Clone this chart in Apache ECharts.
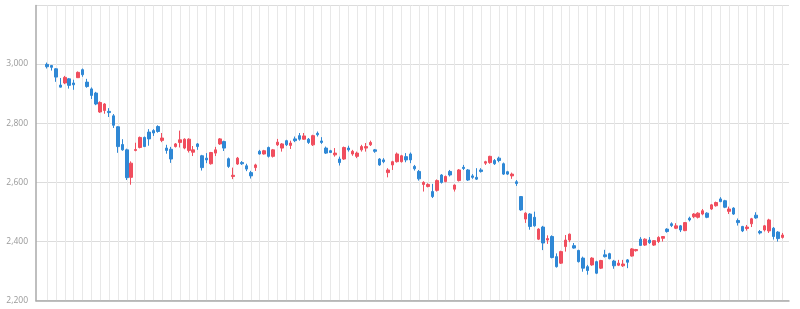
<!DOCTYPE html>
<html>
<head>
<meta charset="utf-8">
<script src="https://cdn.jsdelivr.net/npm/echarts@6/dist/echarts.min.js"></script>
<style>
html,body{margin:0;padding:0;background:#fff;}
#chart{width:800px;height:309px;}
</style>
</head>
<body>
<div id="chart"></div>
<script>
// Candle values: open, close, low, high
var opens = [2999,2995,2984,2929,2936,2950,2936,2954,2981,2939,2916,2902,2838,2843,2840,2825,2788,2728,2710,2617,
2708,2718,2752,2770,2775,2789,2742,2716,2712,2721,2735,2716,2708,2702,2730,2690,2682,2663,2699,2730,
2738,2680,2620,2662,2667,2656,2633,2650,2705,2696,2718,2688,2727,2716,2741,2725,2747,2758,2746,2746,
2727,2766,2740,2716,2707,2693,2679,2679,2716,2696,2688,2710,2716,2727,2710,2679,2676,2633,2659,2670,
2670,2687,2696,2654,2637,2593,2586,2569,2573,2625,2603,2637,2577,2606,2651,2642,2622,2617,2642,2665,
2667,2674,2682,2663,2636,2622,2602,2552,2476,2493,2482,2408,2449,2405,2417,2349,2327,2383,2405,2386,
2370,2344,2315,2321,2332,2310,2355,2359,2334,2320,2318,2338,2351,2369,2408,2388,2405,2388,2400,2411,
2442,2460,2445,2453,2437,2479,2484,2482,2493,2496,2510,2521,2544,2538,2502,2513,2471,2451,2444,2460,
2489,2434,2439,2436,2445,2432,2414];
var closes = [2991,2989,2956,2922,2955,2928,2930,2972,2964,2924,2894,2865,2870,2865,2836,2793,2721,2710,2616,2665,
2711,2752,2721,2747,2767,2772,2750,2708,2679,2730,2744,2746,2746,2710,2721,2650,2676,2701,2710,2747,
2716,2654,2624,2682,2663,2645,2622,2659,2696,2707,2688,2710,2736,2730,2727,2733,2741,2746,2757,2735,
2758,2761,2735,2699,2701,2699,2667,2718,2710,2705,2699,2721,2721,2735,2705,2659,2670,2642,2670,2696,
2690,2676,2676,2646,2612,2600,2593,2552,2606,2600,2620,2625,2591,2642,2647,2608,2617,2611,2637,2670,
2688,2663,2674,2628,2628,2628,2596,2507,2496,2451,2453,2442,2395,2410,2346,2315,2366,2405,2425,2378,
2332,2310,2302,2344,2293,2336,2349,2342,2318,2327,2324,2330,2375,2373,2387,2408,2396,2403,2414,2417,
2434,2454,2453,2439,2464,2473,2493,2496,2504,2482,2524,2532,2535,2516,2510,2493,2464,2436,2449,2477,
2480,2429,2453,2473,2417,2410,2422];
var lows = [2985,2978,2940,2921,2932,2917,2913,2953,2957,2920,2882,2861,2835,2832,2821,2784,2700,2707,2608,2592,
2705,2715,2720,2724,2757,2768,2736,2697,2666,2718,2718,2712,2701,2689,2710,2640,2665,2660,2689,2727,
2706,2649,2611,2659,2659,2638,2613,2639,2694,2694,2684,2684,2723,2704,2723,2713,2736,2741,2744,2730,
2723,2755,2730,2696,2699,2687,2657,2676,2704,2690,2682,2704,2704,2723,2700,2656,2665,2617,2642,2667,
2667,2668,2665,2640,2606,2569,2583,2547,2569,2596,2600,2620,2569,2603,2642,2605,2612,2608,2633,2659,
2663,2659,2668,2625,2625,2612,2588,2504,2463,2440,2450,2405,2371,2392,2343,2312,2324,2366,2398,2376,
2329,2298,2288,2318,2290,2307,2346,2340,2308,2317,2314,2310,2349,2366,2385,2385,2392,2385,2395,2400,
2430,2449,2442,2432,2435,2468,2479,2478,2489,2479,2507,2518,2533,2513,2493,2490,2454,2432,2437,2449,
2477,2424,2434,2429,2407,2400,2410];
var highs = [3005,2997,2986,2953,2960,2953,2947,2975,2985,2950,2921,2906,2874,2868,2851,2831,2790,2746,2714,2671,
2734,2755,2755,2780,2780,2793,2767,2727,2720,2733,2775,2749,2749,2723,2733,2693,2699,2703,2720,2750,
2741,2684,2650,2686,2672,2663,2639,2663,2710,2710,2721,2713,2747,2733,2744,2741,2755,2767,2767,2750,
2761,2772,2753,2721,2710,2716,2687,2721,2724,2710,2704,2727,2733,2741,2713,2682,2682,2648,2673,2701,
2693,2699,2701,2659,2642,2604,2597,2595,2610,2628,2623,2642,2593,2645,2659,2645,2628,2648,2648,2673,
2690,2679,2687,2667,2639,2633,2608,2554,2499,2496,2501,2445,2453,2421,2421,2360,2369,2422,2427,2395,
2372,2349,2321,2347,2335,2338,2372,2362,2338,2338,2338,2341,2378,2375,2415,2411,2415,2405,2418,2418,
2445,2465,2462,2456,2466,2484,2496,2499,2510,2499,2527,2535,2550,2541,2518,2516,2478,2453,2456,2480,
2499,2439,2456,2477,2449,2435,2429];
var yTickLabels = ['2,200','2,400','2,600','2,800','3,000'];

var categories = opens.map(function (_, i) { return String(i + 1); });

// two empty slots before the first candle, one after the last
var padFront = 2, padBack = 1;
var xData = [], candles = [];
for (var i = 0; i < padFront; i++) { xData.push(''); candles.push(['-','-','-','-']); }
for (var k = 0; k < categories.length; k++) {
  xData.push(categories[k]);
  candles.push([opens[k], closes[k], lows[k], highs[k]]);
}
for (var j = 0; j < padBack; j++) { xData.push(''); candles.push(['-','-','-','-']); }

// helper axis at half-band steps for the vertical grid lines through every other candle
var nHalf = xData.length * 2 + 1;
var halfData = [];
for (var h = 0; h < nHalf; h++) halfData.push(String(h));
var firstLine = padFront * 2 + 1;
var lastLine = (padFront + categories.length - 1) * 2 + 1;

var chart = echarts.init(document.getElementById('chart'), null, {renderer: 'canvas'});
chart.setOption({
  animation: false,
  backgroundColor: '#fff',
  grid: {left: 36, right: 11, top: 5.5, bottom: 8.3, containLabel: false},
  xAxis: [{
    type: 'category',
    data: xData,
    boundaryGap: true,
    axisLine: {show: true, onZero: false, lineStyle: {color: '#aaaaaa', width: 1.5}},
    axisTick: {show: false},
    axisLabel: {show: false},
    splitLine: {show: false}
  }, {
    type: 'category',
    data: halfData,
    boundaryGap: false,
    position: 'bottom',
    axisLine: {show: false},
    axisTick: {show: false},
    axisLabel: {show: false},
    splitLine: {
      show: true,
      interval: function (idx) { return idx >= firstLine && idx <= lastLine && (idx - firstLine) % 4 === 0; },
      lineStyle: {color: '#e8e8e8', width: 1}
    }
  }],
  yAxis: {
    type: 'value',
    min: 2200,
    max: 3198,
    interval: 200,
    axisLine: {show: true, lineStyle: {color: '#aaaaaa', width: 1.5}},
    axisTick: {show: false},
    axisLabel: {
      color: '#999999',
      fontFamily: 'Open Sans',
      fontSize: 8.5,
      margin: 8,
      formatter: function (v) { return yTickLabels[Math.round((v - 2200) / 200)] || ''; }
    },
    splitLine: {show: true, lineStyle: {color: '#dcdcdc', width: 1}}
  },
  series: [{
    type: 'candlestick',
    xAxisIndex: 0,
    data: candles,
    barWidth: 3,
    itemStyle: {
      color: '#f04e5e',
      color0: '#2f88d5',
      borderColor: '#f04e5e',
      borderColor0: '#2f88d5',
      borderWidth: 1
    }
  }]
});
</script>
</body>
</html>
